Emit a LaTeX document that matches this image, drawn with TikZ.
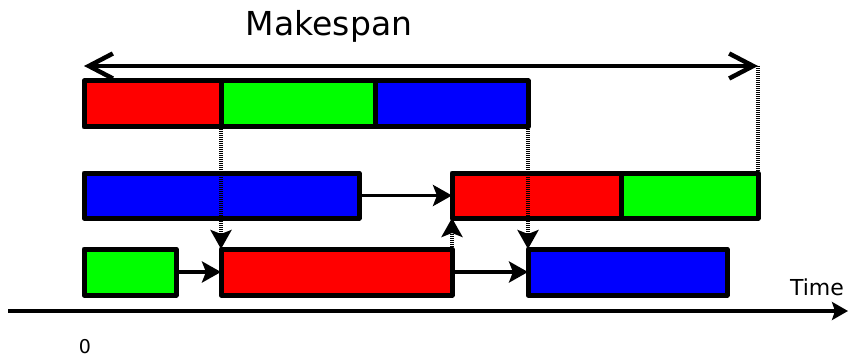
\documentclass[tikz,border=0pt]{standalone}
\usepackage{fontspec}
\setmainfont{DejaVu Sans}
\usetikzlibrary{arrows.meta}

\definecolor{jobred}{RGB}{255,0,0}
\definecolor{jobgreen}{RGB}{0,255,0}
\definecolor{jobblue}{RGB}{0,0,255}

\tikzset{
  seg/.style={draw=black, line width=5pt, line join=round, inner sep=0pt,
    outer sep=0pt, anchor=north west, minimum height=46pt},
  tip/.style={-{Stealth[length=19pt,width=21pt,inset=4pt]}},
  conn/.style={line width=3.8pt, tip},
  sync/.style={line width=3.6pt, dash pattern=on 1pt off 1pt},
  syncarrow/.style={sync, tip},
  span/.style={line width=4.5pt, {Straight Barb[length=24pt,width=25pt,line width=4.5pt]}-{Straight Barb[length=24pt,width=25pt,line width=4.5pt]}},
  axis/.style={line width=4.5pt, -{Stealth[length=16pt,width=18pt,inset=3pt]}},
  lbl/.style={inner sep=0pt, outer sep=0pt, anchor=base}
}

\begin{document}
\begin{tikzpicture}[x=1pt, y=-1pt]
  \useasboundingbox (0,0) rectangle (850,358);

  % makespan
  \node[lbl, font=\fontsize{33}{38}\selectfont] (mklabel) at (329,36) {Makespan};
  \coordinate (mkL) at (84,66);
  \coordinate (mkR) at (758,66);
  \draw[span] (mkL) -- (mkR);

  % first machine
  \node[seg, fill=jobred,   minimum width=137pt] (t1r) at (84,81)  {};
  \node[seg, fill=jobgreen, minimum width=154pt] (t1g) at (221,81) {};
  \node[seg, fill=jobblue,  minimum width=153pt] (t1b) at (375,81) {};

  % second machine
  \node[seg, fill=jobblue,  minimum width=275pt, minimum height=45pt] (m2b) at (84,173)  {};
  \node[seg, fill=jobred,   minimum width=169pt, minimum height=45pt] (m2r) at (452,173) {};
  \node[seg, fill=jobgreen, minimum width=137pt, minimum height=45pt] (m2g) at (621,173) {};

  % third machine
  \node[seg, fill=jobgreen, minimum width=92pt]  (b3g) at (84,249)  {};
  \node[seg, fill=jobred,   minimum width=231pt] (b3r) at (221,249) {};
  \node[seg, fill=jobblue,  minimum width=199pt] (b3b) at (528,249) {};

  % precedence within jobs
  \draw[conn] (m2b.east) -- (m2r.west);
  \draw[conn] (b3g.east) -- (b3r.west);
  \draw[conn] (b3r.east) -- (b3b.west);

  % synchronisation lines
  \draw[syncarrow] (t1r.south east) -- (b3r.north west);
  \draw[syncarrow] (t1b.south east) -- (b3b.north west);
  \draw[syncarrow] (b3r.north east) -- (m2r.south west);
  \draw[sync] (mkR) -- (m2g.north east);

  % time axis
  \coordinate (ax0) at (8,311);
  \coordinate (ax1) at (848,311);
  \draw[axis] (ax0) -- (ax1);
  \node[lbl, font=\fontsize{22}{26}\selectfont] (tlabel) at (817,295) {Time};
  \node[lbl, font=\fontsize{19}{22}\selectfont] (zero) at (85,353) {0};
\end{tikzpicture}
\end{document}
